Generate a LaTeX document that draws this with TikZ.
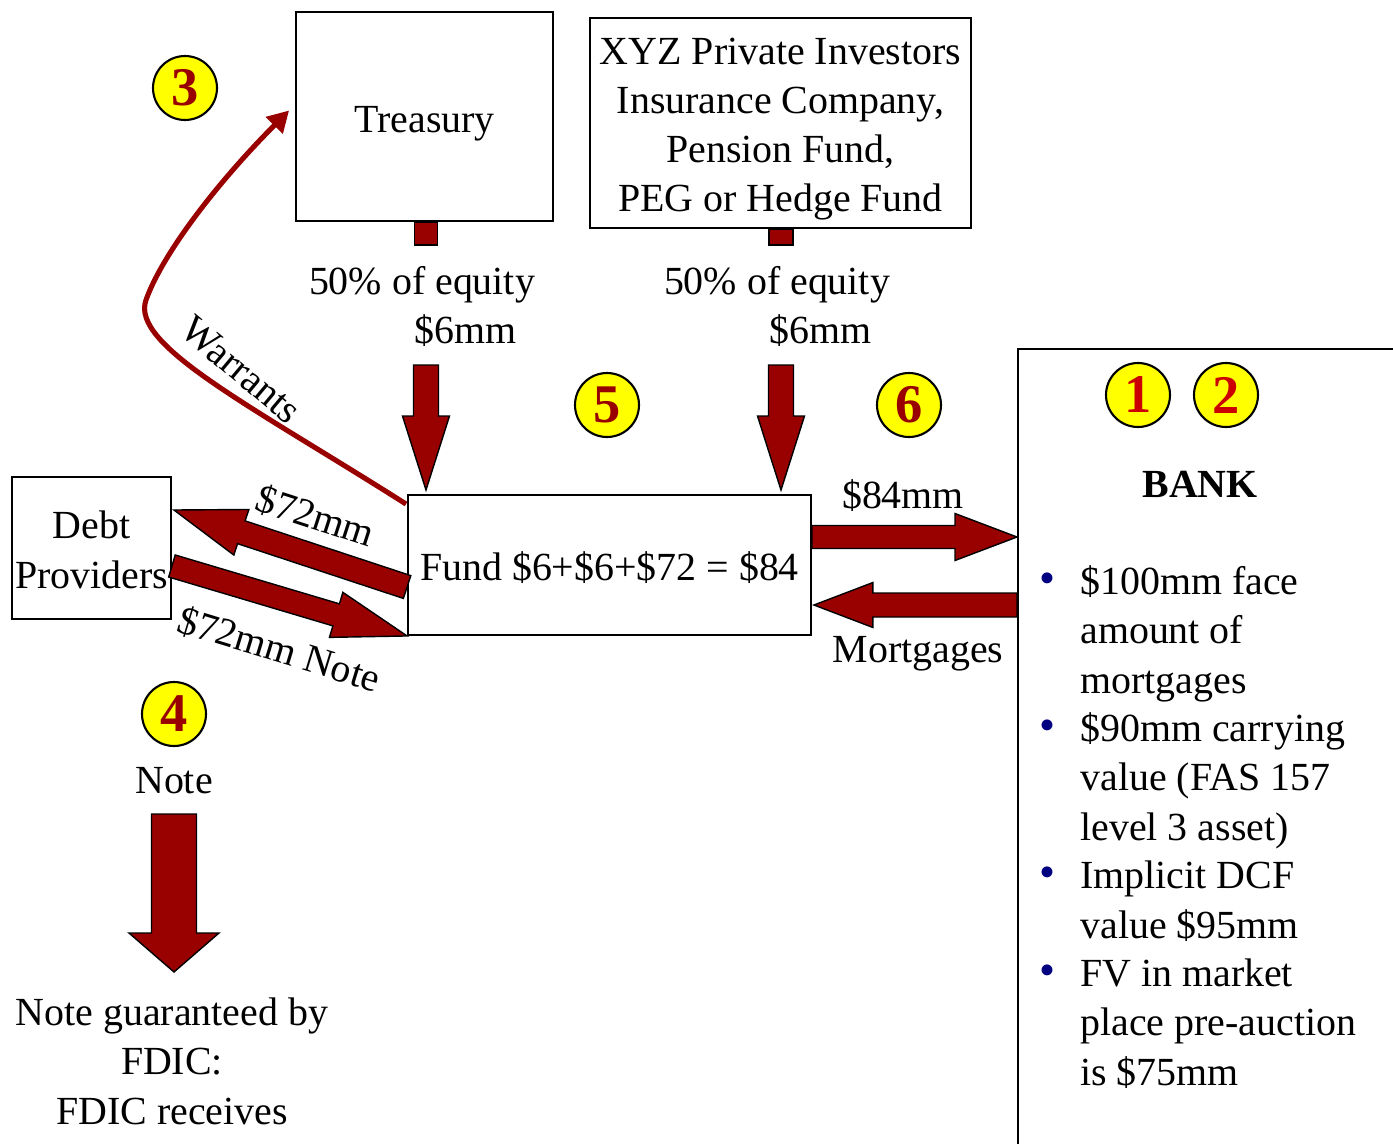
\documentclass[tikz,border=0pt]{standalone}
\usepackage{fontspec}
\setmainfont{Liberation Serif}
\usepackage{xcolor}
\usetikzlibrary{arrows.meta,calc,shapes.geometric}
\definecolor{darkred}{HTML}{990000}
\definecolor{numred}{HTML}{CC0000}
\definecolor{bulletblue}{HTML}{000080}
\definecolor{badgeyellow}{HTML}{FFFF00}

% block arrow: tail, tip, half shaft, half head, head length
\newcommand{\fatarrow}[5]{%
  \path ($(#2)!#5!(#1)$) coordinate (fa-h);
  \filldraw[fat]
    ($(#1)!#3!90:(#2)$) -- ($(fa-h)!#3!-90:(#1)$) -- ($(fa-h)!#4!-90:(#1)$)
    -- (#2) -- ($(fa-h)!#4!90:(#1)$) -- ($(fa-h)!#3!90:(#1)$)
    -- ($(#1)!#3!-90:(#2)$) -- cycle;}

\begin{document}
\begin{tikzpicture}[
  x=0.02cm,
  y=-0.02cm,
  every node/.style={font=\fontsize{22.7}{27.9}\selectfont},
  box/.style={draw=black, line width=1.1pt, fill=white, inner sep=0pt, align=center, text height=0.62cm, text depth=0pt},
  fat/.style={draw=black, fill=darkred, line width=0.8pt, line join=miter},
  stub/.style={draw=black, fill=darkred, line width=0.8pt},
  badge/.style={ellipse, draw=black, line width=1.2pt, fill=badgeyellow, minimum width=1.28cm, minimum height=1.28cm, inner sep=0pt, text=darkred, font=\fontsize{31}{31}\selectfont\bfseries},
  warrant/.style={draw=darkred, line width=2.9pt, -{Triangle[length=12pt, width=13pt]}},
  lbl/.style={align=center, inner sep=0pt, text height=0.62cm, text depth=0pt},
  dot/.style={text=bulletblue, inner sep=0pt, font=\fontsize{26}{26}\selectfont},
  item/.style={anchor=base west, align=left, inner sep=0pt}
]
\useasboundingbox (0,0) rectangle (1393,1143);
\clip (0,0) rectangle (1393,1143);

\node[box, minimum width=5.14cm, minimum height=4.18cm] (treasury) at (424.5,116.5) {Treasury};
\node[box, minimum width=7.62cm, minimum height=4.2cm, text height=3.56cm] (xyz) at (780.5,123) {XYZ Private Investors\\Insurance Company,\\Pension Fund,\\PEG or Hedge Fund};
\node[box, minimum width=8.06cm, minimum height=2.8cm] (fund) at (609.5,565) {Fund \$6+\$6+\$72 = \$84};
\node[box, minimum width=3.18cm, minimum height=2.84cm, text height=1.6cm] (debt) at (91.5,548) {Debt\\Providers};
\node[box, anchor=north west, minimum width=8.2cm, minimum height=16.6cm] (bank) at (1017,348) {};

\draw[stub] ($(treasury.south)+(-10,0)$) rectangle +(23,23);
\draw[stub] ($(xyz.south)+(-11.5,0)$) rectangle +(24,16);

\node[lbl, text height=1.6cm] (eqT) at (422,303.5) {50\% of equity\\\hspace*{2.2em}\$6mm};
\node[lbl, text height=1.6cm] (eqX) at (777,303.5) {50\% of equity\\\hspace*{2.2em}\$6mm};

\coordinate (tTop) at (426,365);
\coordinate (tTip) at (426,490);
\coordinate (xTop) at (781,365);
\coordinate (xTip) at (781,490);
\fatarrow{tTop}{tTip}{0.25cm}{0.47cm}{1.48cm}
\fatarrow{xTop}{xTip}{0.25cm}{0.47cm}{1.48cm}

\node[badge] (n3) at (185,88) {3};
\node[badge] (n5) at (607,405) {5};
\node[badge] (n6) at (909,405) {6};
\node[badge, text=numred] (n1) at (1138,395) {1};
\node[badge, text=numred] (n2) at (1226,395) {2};
\node[badge] (n4) at (174,714) {4};

\coordinate (fOut) at ($(fund.east)+(0,-28)$);
\coordinate (mTip) at ($(fund.east)+(2,40)$);
\fatarrow{fOut}{bank.west |- fOut}{0.23cm}{0.47cm}{1.24cm}
\fatarrow{bank.west |- mTip}{mTip}{0.24cm}{0.45cm}{1.18cm}
\node[lbl] (l84) at (903,492.5) {\$84mm};
\node[lbl] (lmort) at (918,646.5) {Mortgages};

\coordinate (dIn) at ($(fund.west)+(0,22)$);
\coordinate (dTip) at ($(debt.east)+(2,-38)$);
\coordinate (dOut) at ($(debt.east)+(0,18)$);
\fatarrow{dIn}{dTip}{0.24cm}{0.48cm}{1.42cm}
\fatarrow{dOut}{fund.south west}{0.23cm}{0.47cm}{1.48cm}
\node[lbl, rotate=-18] (l72) at (316,514) {\$72mm};
\node[lbl, rotate=-17] (l72n) at (280,647) {\$72mm Note};

\draw[warrant] ($(fund.north west)+(-1,10)$) .. controls (250,405) and (130,345) .. (146,300)
  .. controls (162,255) and (215,185) .. ($(treasury.west)+(-6,-6)$);
\node[lbl, rotate=-40] (lwar) at (243,368) {Warrants};

\node[lbl] (lnote) at (174,777.5) {Note};
\coordinate (nTop) at (174,814);
\coordinate (nTip) at (174,972);
\fatarrow{nTop}{nTip}{0.45cm}{0.9cm}{0.78cm}
\node[lbl, text height=2.58cm] (guar) at (172,1059.5) {Note guaranteed by\\FDIC:\\FDIC receives};

\node[lbl, font=\fontsize{22.7}{27.9}\selectfont\bfseries] (banktitle) at (1200,481.5) {BANK};
\node[dot] (b1) at (1047,583) {\textbullet};
\node[dot] (b2) at (1047,730) {\textbullet};
\node[dot] (b3) at (1047,877) {\textbullet};
\node[dot] (b4) at (1047,975) {\textbullet};
\node[item] (i1) at (1080,693) {\$100mm face\\amount of\\mortgages};
\node[item] (i2) at (1080,840) {\$90mm carrying\\value (FAS 157\\level 3 asset)};
\node[item] (i3) at (1080,938) {Implicit DCF\\value \$95mm};
\node[item] (i4) at (1080,1085) {FV in market\\place pre-auction\\is \$75mm};
\end{tikzpicture}
\end{document}
